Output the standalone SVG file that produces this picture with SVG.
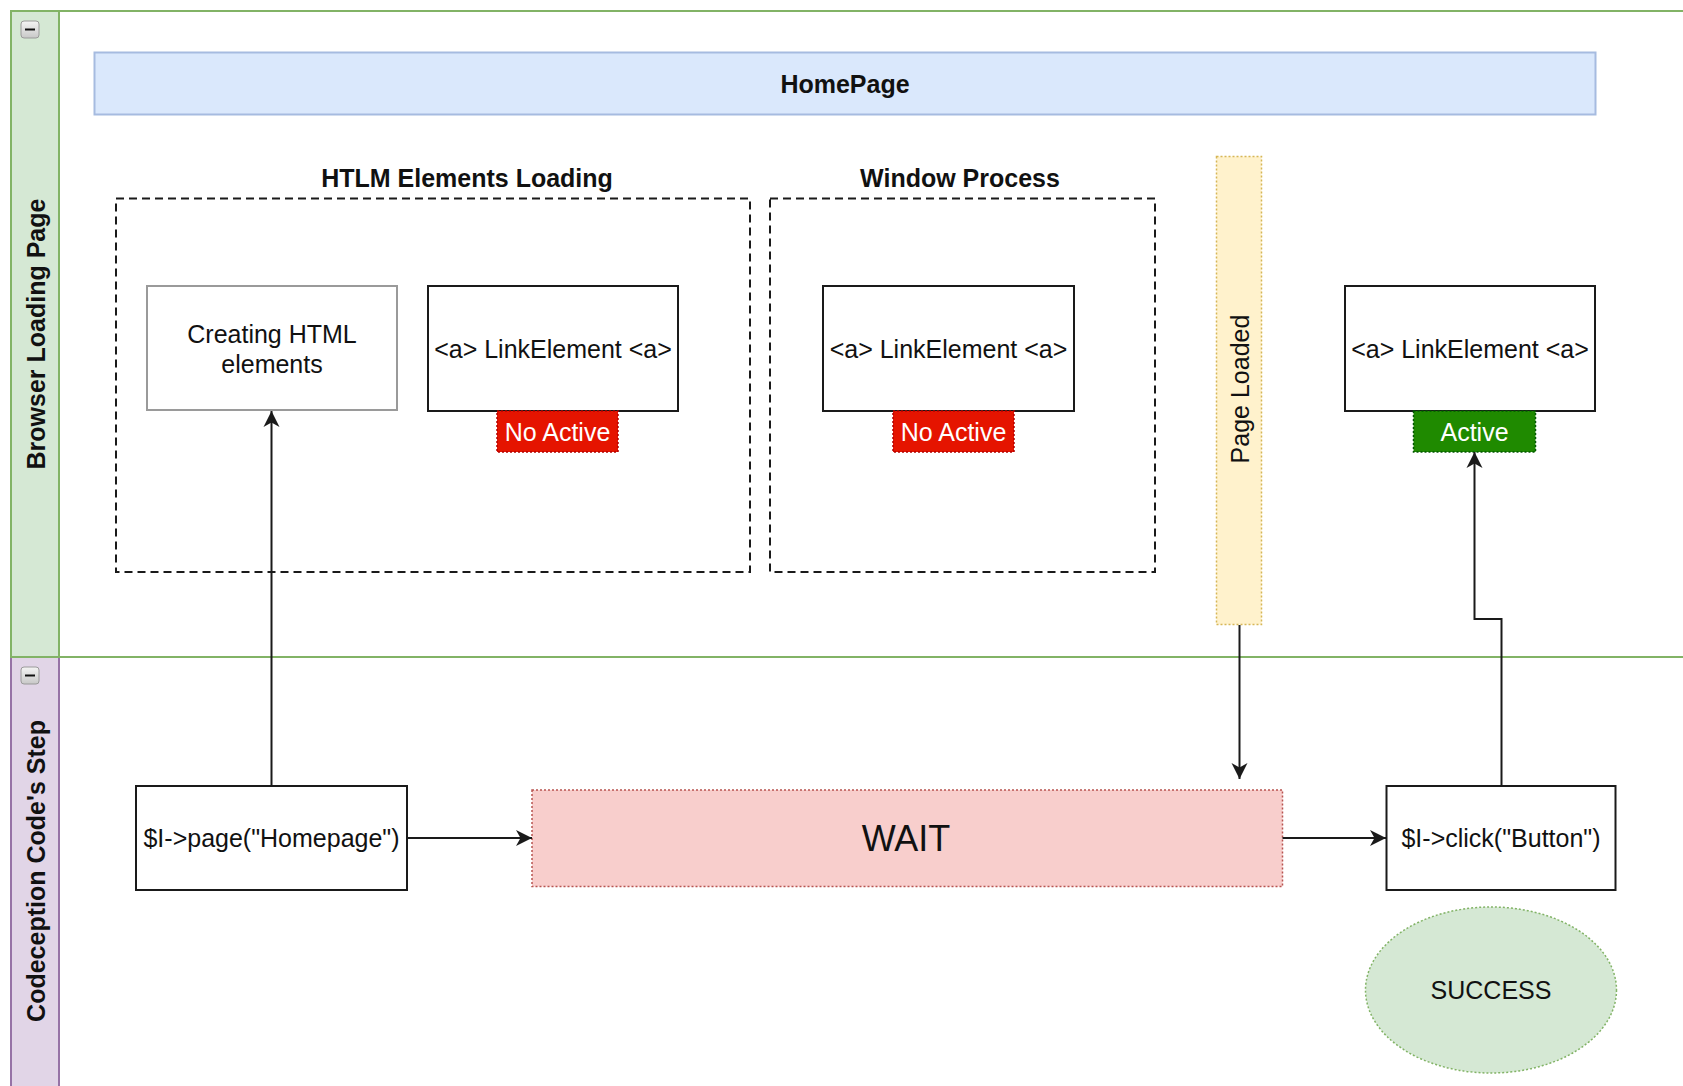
<svg xmlns="http://www.w3.org/2000/svg" width="1683" height="1086" viewBox="0 0 1683 1086">
  <defs>
    <marker id="arrow" markerUnits="userSpaceOnUse" markerWidth="19" markerHeight="19" refX="17" refY="9" orient="auto">
      <path d="M1,1 L17,9 L1,17 L5.5,9 Z" fill="#1a1a1a"/>
    </marker>
    <linearGradient id="btn" x1="0" y1="0" x2="0" y2="1">
      <stop offset="0" stop-color="#f4f4f4"/>
      <stop offset="1" stop-color="#c8c8c8"/>
    </linearGradient>
  </defs>
  <style>
    text { font-family: "Liberation Sans", Arial, sans-serif; fill: #111; }
    .t25 { font-size: 25px; }
    .bold { font-weight: bold; }
    .mid { text-anchor: middle; dominant-baseline: central; }
    .box { fill: #fff; stroke: #1a1a1a; stroke-width: 2; }
    .dash { fill: none; stroke: #1a1a1a; stroke-width: 2; stroke-dasharray: 8 5; }
    .red { fill: #e51400; stroke: #b20000; stroke-width: 1.5; stroke-dasharray: 2 2; }
    .green { fill: #1f8a00; stroke: #005700; stroke-width: 1.5; stroke-dasharray: 2 2; }
    .white { fill: #fff; }
    .edge { fill: none; stroke: #1a1a1a; stroke-width: 2; marker-end: url(#arrow); }
  </style>

  <rect width="1683" height="1086" fill="#fff"/>

  <!-- swimlane: Codeception Code's Step -->
  <g id="lane-code">
    <rect x="11" y="657" width="48" height="440" fill="#e1d5e7" stroke="#9673a6" stroke-width="2"/>
    <rect x="21" y="667" width="18" height="17" rx="3" fill="url(#btn)" stroke="#9a9a9a" stroke-width="1"/>
    <line x1="25" y1="675.5" x2="35" y2="675.5" stroke="#111" stroke-width="2"/>
    <text class="t25 bold mid" transform="translate(36,871) rotate(-90)">Codeception Code's Step</text>
  </g>

  <!-- swimlane: Browser Loading Page -->
  <g id="lane-browser">
    <rect x="11" y="11" width="48" height="646" fill="#d5e8d4" stroke="#82b366" stroke-width="2"/>
    <line x1="11" y1="11" x2="1690" y2="11" stroke="#82b366" stroke-width="2"/>
    <line x1="59" y1="657" x2="1690" y2="657" stroke="#82b366" stroke-width="2"/>
    <rect x="21" y="21" width="18" height="17" rx="3" fill="url(#btn)" stroke="#9a9a9a" stroke-width="1"/>
    <line x1="25" y1="29.5" x2="35" y2="29.5" stroke="#111" stroke-width="2"/>
    <text class="t25 bold mid" transform="translate(36,334) rotate(-90)">Browser Loading Page</text>
  </g>

  <g id="homepage">
    <rect x="94.5" y="52.5" width="1501" height="62" fill="#dae8fc" stroke="#a6bbe0" stroke-width="2"/>
    <text class="t25 bold mid" x="845" y="84">HomePage</text>
  </g>

  <g id="html-loading">
    <rect class="dash" x="116" y="198.5" width="634" height="373.5"/>
    <text class="t25 bold mid" x="467" y="178">HTLM Elements Loading</text>
  </g>

  <g id="window-process">
    <rect class="dash" x="770" y="198.5" width="385" height="373.5"/>
    <text class="t25 bold mid" x="960" y="178">Window Process</text>
  </g>

  <g id="creating-html">
    <rect x="147" y="286" width="250" height="124" fill="#fff" stroke="#9a9a9a" stroke-width="2"/>
    <text class="t25 mid" x="272" y="334">Creating HTML</text>
    <text class="t25 mid" x="272" y="364">elements</text>
  </g>

  <g id="link-1">
    <rect class="box" x="428" y="286" width="250" height="125"/>
    <text class="t25 mid" x="553" y="349">&lt;a&gt; LinkElement &lt;a&gt;</text>
  </g>
  <g id="badge-1">
    <rect class="red" x="497" y="411" width="121" height="41"/>
    <text class="t25 mid white" x="557.5" y="431.5">No Active</text>
  </g>

  <g id="link-2">
    <rect class="box" x="823" y="286" width="251" height="125"/>
    <text class="t25 mid" x="948.5" y="349">&lt;a&gt; LinkElement &lt;a&gt;</text>
  </g>
  <g id="badge-2">
    <rect class="red" x="893" y="411" width="121" height="41"/>
    <text class="t25 mid white" x="953.5" y="431.5">No Active</text>
  </g>

  <g id="page-loaded">
    <rect x="1216.5" y="156.5" width="45" height="468" fill="#fff2cc" stroke="#d6b656" stroke-width="1.5" stroke-dasharray="2 2"/>
    <text class="t25 mid" transform="translate(1240,389) rotate(-90)">Page Loaded</text>
  </g>

  <g id="link-3">
    <rect class="box" x="1345" y="286" width="250" height="125"/>
    <text class="t25 mid" x="1470" y="349">&lt;a&gt; LinkElement &lt;a&gt;</text>
  </g>
  <g id="badge-active">
    <rect class="green" x="1413.5" y="411" width="122" height="41"/>
    <text class="t25 mid white" x="1474.5" y="431.5">Active</text>
  </g>

  <g id="page-step">
    <rect class="box" x="136" y="786" width="271" height="104"/>
    <text class="t25 mid" x="271.5" y="838">$I-&gt;page("Homepage")</text>
  </g>

  <g id="wait">
    <rect x="532" y="790" width="750.5" height="96.5" fill="#f8cecc" stroke="#b85450" stroke-width="1.5" stroke-dasharray="2 2"/>
    <text class="mid" x="906" y="838" style="font-size:36px">WAIT</text>
  </g>

  <g id="click-step">
    <rect class="box" x="1386.5" y="786" width="229" height="104"/>
    <text class="t25 mid" x="1501" y="838">$I-&gt;click("Button")</text>
  </g>

  <g id="success">
    <ellipse cx="1491" cy="990" rx="125.5" ry="83" fill="#d5e8d4" stroke="#82b366" stroke-width="1.5" stroke-dasharray="2 2"/>
    <text class="t25 mid" x="1491" y="990">SUCCESS</text>
  </g>

  <!-- connectors -->
  <g id="connectors">
    <path class="edge" d="M271.5,786 L271.5,411"/>
    <path class="edge" d="M407,838 L532,838"/>
    <path class="edge" d="M1239.5,625 L1239.5,779"/>
    <path class="edge" d="M1282.5,838 L1386,838"/>
    <path class="edge" d="M1501.5,786 L1501.5,619 L1474.5,619 L1474.5,452"/>
  </g>
</svg>
